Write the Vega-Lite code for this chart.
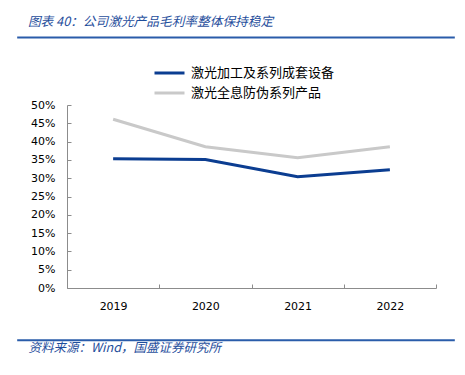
{
  "$schema": "https://vega.github.io/schema/vega-lite/v6.json",
  "width": 369,
  "height": 183,
  "autosize": {"type": "none"},
  "padding": {"left": 67, "top": 105, "right": 29, "bottom": 87},
  "background": "white",
  "config": {"view": {"stroke": null}, "font": "Noto Sans CJK SC"},
  "layer": [
    {
      "data": {
        "values": [
          {"year": "2019", "series": "激光加工及系列成套设备", "value": 0.353},
          {"year": "2020", "series": "激光加工及系列成套设备", "value": 0.351},
          {"year": "2021", "series": "激光加工及系列成套设备", "value": 0.304},
          {"year": "2022", "series": "激光加工及系列成套设备", "value": 0.323},
          {"year": "2019", "series": "激光全息防伪系列产品", "value": 0.461},
          {"year": "2020", "series": "激光全息防伪系列产品", "value": 0.386},
          {"year": "2021", "series": "激光全息防伪系列产品", "value": 0.356},
          {"year": "2022", "series": "激光全息防伪系列产品", "value": 0.386}
        ]
      },
      "mark": {"type": "line", "strokeWidth": 3},
      "encoding": {
        "x": {
          "field": "year", "type": "ordinal",
          "scale": {"type": "band", "paddingInner": 0, "paddingOuter": 0},
          "axis": {
            "title": null, "labelAngle": 0, "tickBand": "extent", "tickSize": -4,
            "labelPadding": 16, "domainColor": "#8c8c8c", "tickColor": "#8c8c8c",
            "labelFont": "DejaVu Sans", "labelFontSize": 11, "labelColor": "#000000"
          }
        },
        "y": {
          "field": "value", "type": "quantitative",
          "scale": {"domain": [0, 0.5]},
          "axis": {
            "title": null, "format": ".0%", "values": [0, 0.05, 0.1, 0.15, 0.2, 0.25, 0.3, 0.35, 0.4, 0.45, 0.5],
            "labelOverlap": false, "labelBound": false,
            "grid": false, "tickSize": -4, "labelPadding": 16, "domainColor": "#8c8c8c", "tickColor": "#8c8c8c",
            "labelFont": "DejaVu Sans", "labelFontSize": 11, "labelColor": "#000000"
          }
        },
        "color": {
          "field": "series", "type": "nominal",
          "scale": {"domain": ["激光加工及系列成套设备", "激光全息防伪系列产品"], "range": ["#0b3d91", "#c9c9c9"]},
          "legend": {
            "orient": "none", "legendX": 86, "legendY": -42, "title": null, "direction": "vertical",
            "symbolType": "stroke", "symbolSize": 900, "symbolStrokeWidth": 3, "padding": 0,
            "labelFont": "Noto Sans CJK SC", "labelFontSize": 13, "labelColor": "#000000",
            "rowPadding": 0, "clipHeight": 20, "labelOffset": 5
          }
        }
      }
    },
    {
      "data": {"values": [{}]},
      "layer": [
        {
          "mark": {"type": "rule", "color": "#2a5caa", "strokeWidth": 2},
          "encoding": {
            "x": {"datum": -0.135, "type": "quantitative", "scale": {"domain": [0, 1]}, "axis": null},
            "x2": {"datum": 1.051},
            "y": {"datum": 1.369, "type": "quantitative", "scale": {"domain": [0, 1]}, "axis": null}
          }
        },
        {
          "mark": {"type": "rule", "color": "#2a5caa", "strokeWidth": 2},
          "encoding": {
            "x": {"datum": -0.135, "type": "quantitative", "scale": {"domain": [0, 1]}, "axis": null},
            "x2": {"datum": 1.051},
            "y": {"datum": -0.286, "type": "quantitative", "scale": {"domain": [0, 1]}, "axis": null}
          }
        },
        {
          "mark": {"type": "text", "text": "图表 40：公司激光产品毛利率整体保持稳定", "align": "left", "baseline": "middle",
                   "fontSize": 12.7, "fontStyle": "italic", "color": "#1f4e9c", "font": "Noto Sans CJK SC"},
          "encoding": {
            "x": {"datum": -0.106, "type": "quantitative", "scale": {"domain": [0, 1]}, "axis": null},
            "y": {"datum": 1.455, "type": "quantitative", "scale": {"domain": [0, 1]}, "axis": null}
          }
        },
        {
          "mark": {"type": "text", "text": "资料来源：Wind，国盛证券研究所", "align": "left", "baseline": "middle",
                   "fontSize": 12.5, "fontStyle": "italic", "color": "#1f4e9c", "font": "Noto Sans CJK SC"},
          "encoding": {
            "x": {"datum": -0.104, "type": "quantitative", "scale": {"domain": [0, 1]}, "axis": null},
            "y": {"datum": -0.326, "type": "quantitative", "scale": {"domain": [0, 1]}, "axis": null}
          }
        }
      ]
    }
  ],
  "resolve": {"scale": {"x": "independent", "y": "independent"}}
}
